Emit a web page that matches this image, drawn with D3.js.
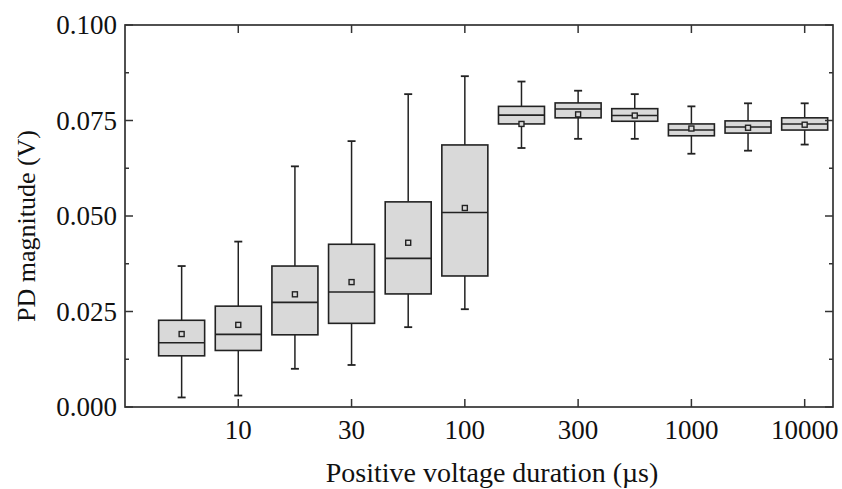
<!DOCTYPE html>
<html>
<head>
<meta charset="utf-8">
<script src="https://cdn.jsdelivr.net/npm/d3@7"></script>
<style>
  body { margin: 0; background: #fff; }
  text { font-family: "Liberation Serif", "DejaVu Serif", serif; fill: #111; }
</style>
</head>
<body>
<div id="chart"></div>
<script>
// box positions along the category axis
var categories = [1, 2, 3, 4, 5, 6, 7, 8, 9, 10, 11, 12];
var tickPositions = [2, 4, 6, 8, 10, 12];
var tickLabels = ["10", "30", "100", "300", "1000", "10000"];

// box statistics (V)
var whiskerLow  = [0.0025, 0.0030, 0.0100, 0.0110, 0.0209, 0.0256, 0.0678, 0.0702, 0.0702, 0.0663, 0.0671, 0.0687];
var q1          = [0.0134, 0.0148, 0.0189, 0.0219, 0.0296, 0.0343, 0.0741, 0.0757, 0.0748, 0.0710, 0.0717, 0.0725];
var median      = [0.0168, 0.0190, 0.0274, 0.0301, 0.0389, 0.0509, 0.0764, 0.0780, 0.0763, 0.0725, 0.0733, 0.0741];
var q3          = [0.0227, 0.0264, 0.0369, 0.0426, 0.0537, 0.0686, 0.0787, 0.0796, 0.0781, 0.0741, 0.0749, 0.0757];
var whiskerHigh = [0.0369, 0.0433, 0.0630, 0.0696, 0.0819, 0.0866, 0.0852, 0.0828, 0.0819, 0.0787, 0.0795, 0.0795];
var means       = [0.0191, 0.0215, 0.0295, 0.0327, 0.0430, 0.0521, 0.0741, 0.0766, 0.0763, 0.0729, 0.0731, 0.0739];

var yTicks = [0, 0.025, 0.05, 0.075, 0.1];
var yMinor = [0.0125, 0.0375, 0.0625, 0.0875];

var svgWidth = 842, svgHeight = 489;
var margin = { top: 25, right: 9, bottom: 82, left: 125 };
var width = svgWidth - margin.left - margin.right;
var height = svgHeight - margin.top - margin.bottom;

var svg = d3.select("#chart").append("svg")
  .attr("width", svgWidth)
  .attr("height", svgHeight);

var chartGroup = svg.append("g")
  .attr("transform", `translate(${margin.left}, ${margin.top})`);

var xScale = d3.scaleLinear().domain([0, 12.5]).range([0, width]);
var yScale = d3.scaleLinear().domain([0, 0.1]).range([height, 0]);

var boxW = 46, capW = 8;
var ink = "#222";

// boxes
var boxes = chartGroup.selectAll("g.box")
  .data(categories)
  .enter()
  .append("g")
  .attr("class", "box");

boxes.append("line")
  .attr("x1", d => xScale(d)).attr("x2", d => xScale(d))
  .attr("y1", (d, i) => yScale(whiskerHigh[i]))
  .attr("y2", (d, i) => yScale(q3[i]))
  .attr("stroke", ink).attr("stroke-width", 1.5);

boxes.append("line")
  .attr("x1", d => xScale(d)).attr("x2", d => xScale(d))
  .attr("y1", (d, i) => yScale(q1[i]))
  .attr("y2", (d, i) => yScale(whiskerLow[i]))
  .attr("stroke", ink).attr("stroke-width", 1.5);

// whisker caps
boxes.append("line")
  .attr("x1", d => xScale(d) - capW / 2).attr("x2", d => xScale(d) + capW / 2)
  .attr("y1", (d, i) => yScale(whiskerHigh[i]))
  .attr("y2", (d, i) => yScale(whiskerHigh[i]))
  .attr("stroke", ink).attr("stroke-width", 1.8);

boxes.append("line")
  .attr("x1", d => xScale(d) - capW / 2).attr("x2", d => xScale(d) + capW / 2)
  .attr("y1", (d, i) => yScale(whiskerLow[i]))
  .attr("y2", (d, i) => yScale(whiskerLow[i]))
  .attr("stroke", ink).attr("stroke-width", 1.8);

boxes.append("rect")
  .attr("x", d => xScale(d) - boxW / 2)
  .attr("width", boxW)
  .attr("y", (d, i) => yScale(q3[i]))
  .attr("height", (d, i) => yScale(q1[i]) - yScale(q3[i]))
  .attr("fill", "#d9d9d9")
  .attr("stroke", ink).attr("stroke-width", 1.6);

boxes.append("line")
  .attr("x1", d => xScale(d) - boxW / 2).attr("x2", d => xScale(d) + boxW / 2)
  .attr("y1", (d, i) => yScale(median[i]))
  .attr("y2", (d, i) => yScale(median[i]))
  .attr("stroke", ink).attr("stroke-width", 1.6);

// mean markers
boxes.append("rect")
  .attr("x", d => xScale(d) - 2.5)
  .attr("y", (d, i) => yScale(means[i]) - 2.5)
  .attr("width", 5).attr("height", 5)
  .attr("fill", "#d9d9d9")
  .attr("stroke", ink).attr("stroke-width", 1.4);

// frame
chartGroup.append("rect")
  .attr("width", width).attr("height", height)
  .attr("fill", "none")
  .attr("stroke", "#333").attr("stroke-width", 1.7);

// ticks, all pointing inward
function tickLines(values, x1, y1, x2, y2) {
  chartGroup.append("g").selectAll("line")
    .data(values).enter().append("line")
    .attr("x1", x1).attr("y1", y1).attr("x2", x2).attr("y2", y2)
    .attr("stroke", "#333").attr("stroke-width", 1.5);
}
tickLines(yTicks, 0, d => yScale(d), 8, d => yScale(d));
tickLines(yMinor, 0, d => yScale(d), 4, d => yScale(d));
tickLines(yTicks, width, d => yScale(d), width - 8, d => yScale(d));
tickLines(yMinor, width, d => yScale(d), width - 4, d => yScale(d));
tickLines(tickPositions, d => xScale(d), height, d => xScale(d), height - 8);
tickLines(tickPositions, d => xScale(d), 0, d => xScale(d), 8);

// y tick labels
chartGroup.append("g").selectAll("text")
  .data(yTicks).enter().append("text")
  .attr("x", -8)
  .attr("y", d => yScale(d))
  .attr("dy", "0.34em")
  .attr("text-anchor", "end")
  .attr("font-size", "27px")
  .text(d => d3.format(".3f")(d));

// x tick labels
chartGroup.append("g").selectAll("text")
  .data(tickPositions).enter().append("text")
  .attr("x", d => xScale(d))
  .attr("y", height + 32)
  .attr("text-anchor", "middle")
  .attr("font-size", "27px")
  .text((d, i) => tickLabels[i]);

// axis labels
svg.append("text")
  .attr("transform", "translate(35, 226) rotate(-90)")
  .attr("text-anchor", "middle")
  .attr("font-size", "26px")
  .text("PD magnitude (V)");

svg.append("text")
  .attr("x", 492)
  .attr("y", 482)
  .attr("text-anchor", "middle")
  .attr("font-size", "28px")
  .text("Positive voltage duration (\u00b5s)");
</script>
</body>
</html>
